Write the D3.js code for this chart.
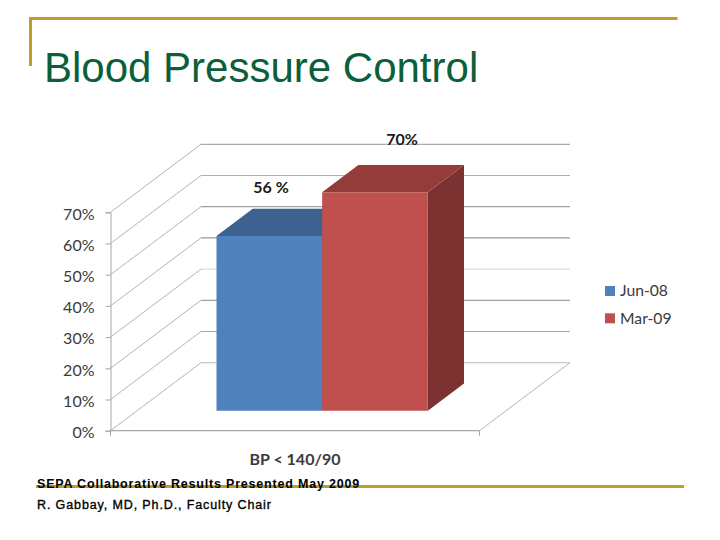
<!DOCTYPE html>
<html><head><meta charset="utf-8">
<script src="https://d3js.org/d3.v7.min.js"></script>
<style>html,body{margin:0;padding:0;background:#fff}svg{display:block}</style>
</head><body><svg id="c" width="720" height="540"></svg>
<script>
const title = "Blood Pressure Control";
const category = "BP < 140/90";
const seriesNames = ["Jun-08", "Mar-09"];
const seriesValues = [56, 70];
const valueLabels = ["56 %", "70%"];
const tickValues = [0, 10, 20, 30, 40, 50, 60, 70];
const seriesFront = ["#4f81bd", "#c0504d"];
const seriesTop = ["#3d6290", "#943c3a"];
const seriesSide = ["#345479", "#7b3230"];
const gridGray = ["#c8c8c8", "#a8a8a8", "#a0a0a0", "#dcdcdc", "#989898", "#a0a0a0", "#b0b0b0", "#aaaaaa"];
const footer = ["SEPA Collaborative Results Presented May 2009", "R. Gabbay, MD, Ph.D., Faculty Chair"];

const svg = d3.select("#c");
const gold = "#bf9d2b";
const y = d3.scaleLinear().domain([0, 70]).range([430.7, 212.3]);
const floorX = d3.scaleLinear().domain([0, 1]).range([110.5, 479.5]);
const depthX = d3.scaleLinear().domain([0, 1]).range([0, 90.5]);
const depthY = d3.scaleLinear().domain([0, 1]).range([0, -68]);
const band = d3.scaleBand().domain(seriesNames).range([0.2152, 0.7878]);
const P = (u, v, d) => [floorX(u) + depthX(d), y(v) + depthY(d)];
const line = d3.line();

// frame
svg.append("rect").attr("x", 29).attr("y", 17).attr("width", 648.5).attr("height", 3).attr("fill", gold);
svg.append("rect").attr("x", 29).attr("y", 17).attr("width", 3).attr("height", 49).attr("fill", gold);
svg.append("rect").attr("x", 36).attr("y", 485).attr("width", 648).attr("height", 3).attr("fill", gold);

svg.append("text").attr("x", 44).attr("y", 82).attr("font-family", "Liberation Sans").attr("font-size", 42)
  .attr("fill", "#0b5f3a").text(title);

// walls
const gridG = svg.append("g").attr("fill", "none");
tickValues.forEach((t, i) => {
  gridG.append("path").attr("d", line([P(0, t, 0), P(0, t, 1)])).attr("stroke", "#b4b4b4");
  gridG.append("path").attr("d", line([P(0, t, 1), P(1, t, 1)])).attr("stroke", gridGray[i]).attr("stroke-width", 1.2);
});
gridG.append("path").attr("d", line([P(0, 0, 0), P(1, 0, 0)])).attr("stroke", "#a8a8a8").attr("stroke-width", 1.2);
gridG.append("path").attr("d", line([P(1, 0, 0), P(1, 0, 1)])).attr("stroke", "#b4b4b4");

// axis
const axis = d3.axisLeft(y).tickValues(tickValues).tickSize(5).tickPadding(11).tickFormat(d => d + "%");
const ax = svg.append("g").attr("transform", "translate(110.5,0)").call(axis);
ax.selectAll("path,line").attr("stroke", "#a6a6a6");
ax.selectAll("text").attr("font-family", "Lato").attr("font-size", 16).attr("dy", "0.42em").attr("fill", "#3a3a3a");
svg.append("g").selectAll("line").data([0, 1]).join("line")
  .attr("x1", d => floorX(d)).attr("x2", d => floorX(d))
  .attr("y1", y(0)).attr("y2", y(0) + 5).attr("stroke", "#a6a6a6");

// bars
const d0 = 0.294, d1 = 0.694;
const bars = svg.append("g");
seriesNames.forEach((s, i) => {
  const u0 = band(s), u1 = u0 + band.bandwidth(), v = seriesValues[i];
  const g = bars.append("g");
  g.append("path").attr("fill", seriesSide[i]).attr("d", line([P(u1, 0, d0), P(u1, 0, d1), P(u1, v, d1), P(u1, v, d0)]) + "Z");
  g.append("path").attr("fill", seriesTop[i]).attr("d", line([P(u0, v, d0), P(u0, v, d1), P(u1, v, d1), P(u1, v, d0)]) + "Z");
  g.append("path").attr("fill", seriesFront[i]).attr("d", line([P(u0, 0, d0), P(u1, 0, d0), P(u1, v, d0), P(u0, v, d0)]) + "Z");
});

// value labels
const labelPos = [[271, 193], [402, 145]];
seriesNames.forEach((s, i) => {
  svg.append("text").attr("x", labelPos[i][0]).attr("y", labelPos[i][1]).attr("text-anchor", "middle")
    .attr("font-family", "Lato").attr("font-weight", 700).attr("font-size", 16).attr("fill", "#1a1a1a").text(valueLabels[i]);
});

svg.append("text").attr("x", 295).attr("y", 465).attr("text-anchor", "middle").attr("font-family", "Lato")
  .attr("font-weight", 700).attr("font-size", 16).attr("fill", "#3a3a3a").text(category);

// legend
const lg = svg.append("g");
seriesNames.forEach((s, i) => {
  const ly = 291 + i * 27.3;
  lg.append("rect").attr("x", 605).attr("y", ly - 5).attr("width", 10).attr("height", 10).attr("fill", seriesFront[i]);
  lg.append("text").attr("x", 620).attr("y", ly + 5.3).attr("font-family", "Lato").attr("font-size", 15.7).attr("fill", "#3a3a3a").text(s);
});

// footer
footer.forEach((t, i) => {
  svg.append("text").attr("x", 37).attr("y", 488 + i * 21).attr("font-family", "Liberation Sans").attr("font-size", 12.5)
    .attr("letter-spacing", i === 0 ? 0.8 : 0.88)
    .attr("font-weight", i === 0 ? 700 : 400).attr("stroke", "#000").attr("stroke-width", i === 0 ? 0 : 0.35).attr("fill", "#000").text(t);
});
</script></body></html>
